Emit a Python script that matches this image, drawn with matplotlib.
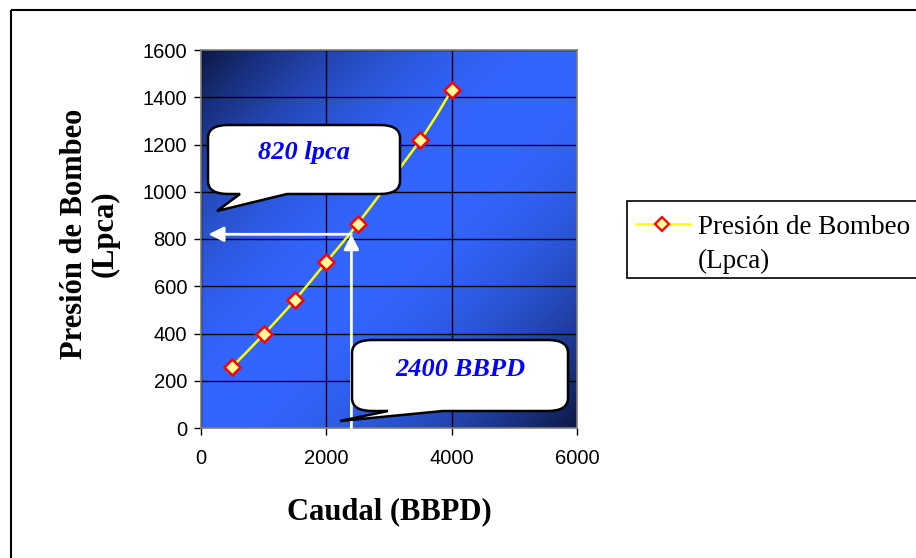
import numpy as np
import matplotlib
matplotlib.use("Agg")
import matplotlib.pyplot as plt
from matplotlib.path import Path
from matplotlib.patches import PathPatch, Rectangle
from matplotlib.lines import Line2D
from matplotlib.transforms import Affine2D

# Curva de bombeo: caudal (BBPD) vs presión de bombeo (Lpca)
caudal = [500, 1000, 1500, 2000, 2500, 3500, 4000]
presion = [260, 396, 542, 703, 865, 1219, 1430]
x_ticks = [0, 2000, 4000, 6000]
y_ticks = [0, 200, 400, 600, 800, 1000, 1200, 1400, 1600]
series_label = "Presión de Bombeo\n(Lpca)"
x_label = "Caudal (BBPD)"
y_label = "Presión de Bombeo\n(Lpca)"
caudal_op = 2400
presion_op = 820
callout_q = "2400 BBPD"
callout_p = "820 lpca"

W, H = 916, 558
fig = plt.figure(figsize=(W / 100, H / 100), dpi=100)
fig.patch.set_facecolor("white")

# pixel coordinates measured from the top-left corner of the figure
px = Affine2D().scale(1.0 / W, -1.0 / H).translate(0, 1) + fig.transFigure


def fx(p):
    return p / W


def fy(p):
    return 1 - p / H


SERIF = ["Liberation Serif", "DejaVu Serif"]
SANS = ["Liberation Sans", "DejaVu Sans"]

ax = fig.add_axes([fx(201), fy(428), fx(577) - fx(201), fy(50) - fy(428)])

# diagonal blue gradient, dark toward top-left and bottom-right corners
n = 300
u, v = np.meshgrid(np.linspace(0, 1, n), np.linspace(1, 0, n))
s = (u + (1 - v)) / 2.0
d = np.abs(2 * s - 1)
b = 1 - d ** 2.0
dark = np.array([0.05, 0.09, 0.26])
bright = np.array([0.20, 0.40, 1.00])
img = dark[None, None, :] + (bright - dark)[None, None, :] * b[..., None]
ax.imshow(img, extent=[0, 1, 0, 1], transform=ax.transAxes, aspect="auto",
          zorder=0, interpolation="bilinear")

ax.set_xlim(0, 6000)
ax.set_ylim(0, 1600)
ax.set_xticks(x_ticks)
ax.set_yticks(y_ticks)
ax.set_axisbelow(True)
ax.grid(True, color="black", linewidth=1.0)
for sp in ax.spines.values():
    sp.set_color("#7f7f7f")
    sp.set_linewidth(1.2)
ax.tick_params(direction="out", length=5, width=1, color="black",
               labelsize=14.5, pad=5)
for lab in ax.get_xticklabels() + ax.get_yticklabels():
    lab.set_fontfamily(SANS)
ax.tick_params(axis="x", pad=10)

# smoothed series (Catmull-Rom style Bezier through the points)
xs = np.asarray(caudal, float)
ys = np.asarray(presion, float)
P = np.column_stack([xs, ys])
verts = [P[0]]
codes = [Path.MOVETO]
for i in range(len(P) - 1):
    p0 = P[i - 1] if i > 0 else P[i]
    p1 = P[i]
    p2 = P[i + 1]
    p3 = P[i + 2] if i + 2 < len(P) else P[i + 1]
    c1 = p1 + (p2 - p0) / 6.0
    c2 = p2 - (p3 - p1) / 6.0
    verts += [c1, c2, p2]
    codes += [Path.CURVE4] * 3
ax.add_patch(PathPatch(Path(verts, codes), facecolor="none",
                       edgecolor="#ffff00", linewidth=1.8, zorder=3))
ax.plot(xs, ys, linestyle="none", marker="D", markersize=8,
        markerfacecolor="#ffff99", markeredgecolor="#ff0000",
        markeredgewidth=1.8, zorder=4)

# reading arrows for the operating point
arrow_kw = dict(arrowstyle="-|>,head_length=0.9,head_width=0.45",
                color="white", lw=2.0, shrinkA=0, shrinkB=0)
ax.annotate("", xy=(caudal_op, presion_op), xytext=(caudal_op, 0),
            arrowprops=arrow_kw, zorder=5)
ax.annotate("", xy=(120, presion_op), xytext=(caudal_op, presion_op),
            arrowprops=arrow_kw, zorder=5)


def callout(x0, y0, x1, y1, bx0, bx1, tip, rx=20, ry=13):
    v = [(x0 + rx, y0), (x1 - rx, y0), (x1, y0), (x1, y0 + ry),
         (x1, y1 - ry), (x1, y1), (x1 - rx, y1),
         (bx1, y1), tip, (bx0, y1),
         (x0 + rx, y1), (x0, y1), (x0, y1 - ry),
         (x0, y0 + ry), (x0, y0), (x0 + rx, y0), (x0 + rx, y0)]
    c = [Path.MOVETO, Path.LINETO, Path.CURVE3, Path.CURVE3,
         Path.LINETO, Path.CURVE3, Path.CURVE3,
         Path.LINETO, Path.LINETO, Path.LINETO,
         Path.LINETO, Path.CURVE3, Path.CURVE3,
         Path.LINETO, Path.CURVE3, Path.CURVE3, Path.CLOSEPOLY]
    patch = PathPatch(Path(v, c), facecolor="white", edgecolor="black",
                      linewidth=1.8, transform=px, zorder=10)
    fig.add_artist(patch)


callout(208, 125, 400, 194, 240, 287, (217, 211))
fig.text(fx(304), fy(153), callout_p, fontsize=19, fontweight="bold",
         fontstyle="italic", color="#0000ff", family=SERIF,
         ha="center", va="center", zorder=11)

callout(352, 340, 568, 411, 388, 443, (340, 421))
fig.text(fx(460), fy(369), callout_q, fontsize=19, fontweight="bold",
         fontstyle="italic", color="#0000ff", family=SERIF,
         ha="center", va="center", zorder=11)

# axis titles
fig.text(fx(90), fy(234), y_label, rotation=90, fontsize=22,
         fontweight="bold", family=SERIF, ha="center", va="center",
         multialignment="center", linespacing=1.05)
fig.text(fx(389), fy(512), x_label, fontsize=22, fontweight="bold",
         family=SERIF, ha="center", va="center")

# legend box
fig.add_artist(Rectangle((627, 201), 330, 77, facecolor="white",
                         edgecolor="black", linewidth=1.2, transform=px))
fig.add_artist(Line2D([636, 690], [224, 224], color="#ffff00",
                      linewidth=1.8, transform=px))
fig.add_artist(Line2D([662], [224], linestyle="none", marker="D",
                      markersize=7, markerfacecolor="#ffff99",
                      markeredgecolor="#ff0000", markeredgewidth=1.6,
                      transform=px))
for k, line in enumerate(series_label.split("\n")):
    fig.text(fx(698), fy(234 + 34 * k), line, fontsize=19.5, family=SERIF,
             ha="left", va="baseline")

# outer chart frame
fig.add_artist(Rectangle((11, 10), 1000, 600, facecolor="none",
                         edgecolor="black", linewidth=1.5, transform=px))

fig.savefig("out.png", dpi=100)
